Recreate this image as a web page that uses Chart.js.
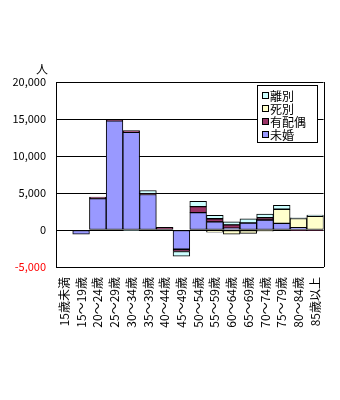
<!DOCTYPE html>
<html>
<head>
<meta charset="utf-8">
<script src="https://cdn.jsdelivr.net/npm/chart.js@4"></script>
<style>
  body { margin: 0; background: #fff; }
  #wrap { width: 340px; height: 400px; }
</style>
</head>
<body>
<div id="wrap"><canvas id="kekkon" width="340" height="400"></canvas></div>
<script>
// 年齢階級
const ageGroups = ['15歳未満', '15～19歳', '20～24歳', '25～29歳', '30～34歳', '35～39歳', '40～44歳', '45～49歳',
                   '50～54歳', '55～59歳', '60～64歳', '65～69歳', '70～74歳', '75～79歳', '80～84歳', '85歳以上'];

// 配偶関係別の人数（人）
const mikon    = [0, -550, 4250, 14750, 13200, 4800, 0, -2600, 2350, 1100, 250, 950, 1350, 900, 300, 0];
const haiguu   = [0, 0, 200, 120, 250, 100, 350, -300, 800, 420, 450, 0, 300, 0, -60, -60];
const shibetsu = [0, 0, 0, 0, 0, 0, 0, 0, 0, -300, -550, -450, -150, 1900, 1250, 1850];
const ribetsu  = [0, 0, 0, 0, -60, 440, 0, -650, 730, 450, 400, 550, 500, 550, 100, 150];

const yTicks = [-5000, 0, 5000, 10000, 15000, 20000];

const FONT = "'Noto Sans CJK JP', 'Noto Sans', sans-serif";

let ds = (label, data, color) => ({
    label,
    data,
    backgroundColor: color,
    borderColor: '#000',
    borderWidth: 1,
    borderSkipped: false,
    barPercentage: 1,
    categoryPercentage: 1
});

// 枠線・単位・凡例
const extras = {
    id: 'extras',
    afterDraw(chart) {
        const c = chart.ctx;
        const a = chart.chartArea;
        c.save();
        c.strokeStyle = '#000';
        c.lineWidth = 1;
        c.beginPath();
        c.moveTo(Math.round(a.right) + 0.5, a.top);
        c.lineTo(Math.round(a.right) + 0.5, a.bottom);
        c.stroke();

        c.fillStyle = '#000';
        c.font = '12px ' + FONT;
        c.textAlign = 'center';
        c.textBaseline = 'middle';
        c.fillText('人', 42, 69);

        // 凡例（上から離別・死別・有配偶・未婚）
        const bx = 257.5, by = 85.5, bw = 60, bh = 57;
        c.fillStyle = '#fff';
        c.fillRect(bx, by, bw, bh);
        c.strokeRect(bx, by, bw, bh);
        const items = chart.data.datasets.slice().reverse();
        c.textAlign = 'left';
        items.forEach((d, i) => {
            const y = 96 + i * 13;
            c.fillStyle = d.backgroundColor;
            c.fillRect(262.5, y - 3.5, 6, 6);
            c.strokeRect(262.5, y - 3.5, 6, 6);
            c.fillStyle = '#000';
            c.fillText(d.label, 270, y);
        });
        c.restore();
    }
};

new Chart(document.getElementById('kekkon'), {
    type: 'bar',
    data: {
        labels: ageGroups,
        datasets: [
            ds('未婚', mikon, '#9999FF'),
            ds('有配偶', haiguu, '#993366'),
            ds('死別', shibetsu, '#FFFFCC'),
            ds('離別', ribetsu, '#CCFFFF')
        ]
    },
    options: {
        responsive: false,
        animation: false,
        layout: { padding: { top: 82, right: 13, left: 0, bottom: 0 } },
        plugins: {
            legend: { display: false },
            tooltip: { enabled: false }
        },
        scales: {
            x: {
                stacked: true,
                afterFit: s => { s.height = 133; },
                grid: { display: false, drawTicks: false },
                border: { color: '#000', width: 1 },
                ticks: {
                    minRotation: 90,
                    maxRotation: 90,
                    autoSkip: false,
                    padding: 10,
                    color: '#000',
                    font: { family: FONT, size: 12 }
                }
            },
            y: {
                stacked: true,
                min: -5000,
                max: 20000,
                afterFit: s => { s.width = 56; },
                afterBuildTicks: s => { s.ticks = yTicks.map(v => ({ value: v })); },
                grid: { color: '#000', lineWidth: 1, drawTicks: false },
                border: { color: '#000', width: 1 },
                ticks: {
                    padding: 10,
                    color: ctx => ctx.tick.value < 0 ? '#FF0000' : '#000',
                    font: { family: FONT, size: 11 },
                    callback: v => v.toLocaleString('en-US')
                }
            }
        }
    },
    plugins: [extras]
});
</script>
</body>
</html>
